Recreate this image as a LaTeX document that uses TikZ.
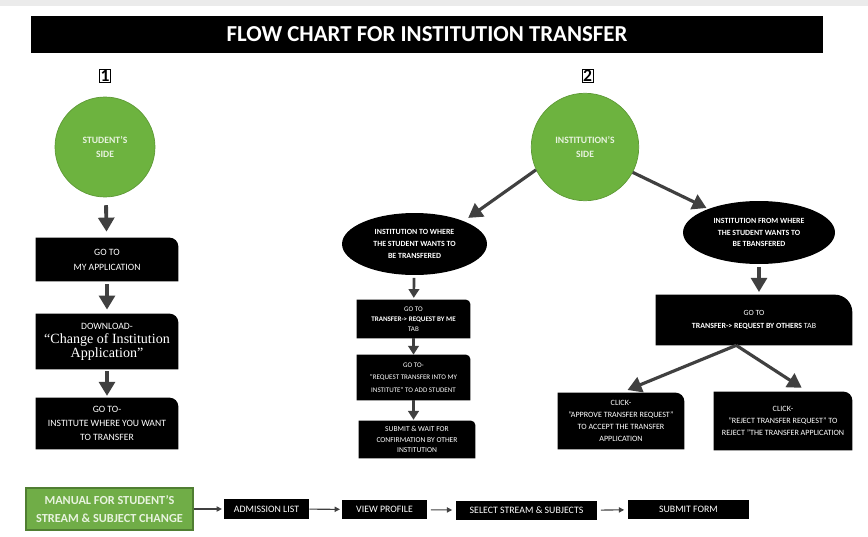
\documentclass[tikz,border=0pt]{standalone}
\usepackage{fontspec}
\setmainfont{Carlito}
\newfontfamily\quotefont{Liberation Serif}
\usepackage{tikz}
\usetikzlibrary{shapes.geometric, arrows.meta, positioning, backgrounds}

\definecolor{sidegreen}{HTML}{6DB33F}
\definecolor{sideline}{HTML}{5E9A36}
\definecolor{manualgreen}{HTML}{70AD47}
\definecolor{manualline}{HTML}{507E32}
\definecolor{paletext}{HTML}{E8F3DF}
\definecolor{arrowgray}{HTML}{404040}

\newcommand{\boxfont}[2]{\fontsize{#1}{#2}\selectfont}

\begin{document}
\begin{tikzpicture}[x=0.02cm, y=-0.02cm,%
  title/.style={fill=black, text=white, minimum width=15.84cm, minimum height=0.74cm, font=\bfseries\boxfont{13}{15}},%
  sidenum/.style={draw, thin, fill=white, inner sep=0.6pt, font=\bfseries\boxfont{10}{11}},%
  side/.style={circle, fill=sidegreen, draw=sideline, text=paletext, align=center, inner sep=0pt, font=\bfseries\boxfont{5.5}{8.5}},%
  stepbox/.style={rectangle, text=white, align=center, inner sep=1pt},%
  part/.style={ellipse, fill=black, text=white, align=center, inner sep=0pt, font=\bfseries\boxfont{4.5}{7}},%
  flat/.style={fill=black, text=white, inner sep=0pt, font=\boxfont{5.6}{7}},%
  manual/.style={fill=manualgreen, draw=manualline, thick, text=paletext, align=center, font=\bfseries\boxfont{7}{10}},%
  bigarrow/.style={-{Triangle[length=8pt,width=9pt]}, line width=2.2pt, draw=arrowgray},%
  midarrow/.style={-{Triangle[length=5pt,width=6pt]}, line width=1.5pt, draw=arrowgray},%
  thinarrow/.style={-{Triangle[length=3pt,width=3pt]}, line width=0.6pt, draw=arrowgray}%
]
  \useasboundingbox (0,0) rectangle (868,537);
  \fill[black!8] (0,0) rectangle (868,6);
  \node[title] (head) at (427,34.5) {FLOW CHART FOR INSTITUTION TRANSFER};
  \node[sidenum] (one) at (105,76) {1};
  \node[sidenum] (two) at (587.5,76) {2};

  % Student's side
  \node[side, minimum size=2cm] (stud) at (105,147) {STUDENT'S\\SIDE};
  \node[stepbox, minimum width=2.84cm, minimum height=0.86cm, font=\boxfont{5.5}{8.5}] (app) at (107,259.5) {GO TO\\MY APPLICATION};
  \node[stepbox, minimum width=2.84cm, minimum height=1.1cm, font=\boxfont{5.5}{8}] (down) at (107,341.5) {DOWNLOAD-\\{\quotefont\boxfont{8}{9.6}“Change of Institution}\\{\quotefont\boxfont{8}{9.6}Application”}};
  \node[stepbox, minimum width=2.84cm, minimum height=1.02cm, font=\boxfont{5.5}{7.9}] (where) at (107,423.5) {GO TO-\\INSTITUTE WHERE YOU WANT\\TO TRANSFER};
  \draw[bigarrow, shorten <=4.5pt, shorten >=3.4pt] (stud) -- (app);
  \draw[bigarrow, shorten <=1.7pt, shorten >=2.3pt] (app) -- (down);
  \draw[bigarrow, shorten <=1pt, shorten >=1pt] (down) -- (where);

  % Institution's side
  \node[side, minimum size=2.15cm] (inst) at (585,147) {INSTITUTION'S\\SIDE};
  \node[part, minimum width=2.9cm, minimum height=1.24cm] (lell) at (414.5,244) {INSTITUTION TO WHERE\\THE STUDENT WANTS TO\\BE TRANSFERED};
  \node[part, minimum width=3.04cm, minimum height=1.26cm, font=\bfseries\boxfont{4.5}{6.5}] (rell) at (759,232.5) {INSTITUTION FROM WHERE\\THE STUDENT WANTS TO\\BE TBANSFERED};
  \draw[bigarrow, line width=1.8pt, shorten >=3pt] (inst.205) -- (lell.25);
  \draw[bigarrow, line width=1.8pt, shorten >=1pt] (inst.-28) -- (rell.155);

  % Institution to where
  \node[stepbox, minimum width=2.26cm, minimum height=0.76cm, font=\boxfont{4}{5.7}] (byme) at (413.5,319) {GO TO\\\textbf{TRANSFER-> REQUEST BY ME}\\TAB};
  \node[stepbox, minimum width=2.26cm, minimum height=0.9cm, font=\boxfont{4}{7}] (reqin) at (413.5,377.5) {GO TO-\\"REQUEST TRANSFER INTO MY\\INSTITUTE" TO ADD STUDENT};
  \node[stepbox, minimum width=2.32cm, minimum height=0.74cm, font=\boxfont{4.3}{6.2}] (wait) at (417,439.5) {SUBMIT \& WAIT FOR\\CONFIRMATION BY OTHER\\INSTITUTION};
  \draw[midarrow, shorten <=1.5pt, shorten >=1pt] (lell) -- (byme);
  \draw[midarrow] (byme) -- (reqin);
  \draw[midarrow, shorten >=0.5pt] (reqin.south) -- (reqin.south |- wait.north);

  % Institution from where
  \node[stepbox, minimum width=3.92cm, minimum height=1.0cm, font=\boxfont{4.5}{7.4}] (others) at (754,320) {GO TO\\\textbf{TRANSFER-> REQUEST BY OTHERS} TAB};
  \node[stepbox, minimum width=2.52cm, minimum height=1.12cm, font=\boxfont{4.6}{6.8}] (approve) at (621,421) {CLICK-\\"APPROVE TRANSFER REQUEST"\\TO ACCEPT THE TRANSFER\\APPLICATION};
  \node[stepbox, minimum width=2.76cm, minimum height=1.16cm, font=\boxfont{4.6}{6.8}] (reject) at (783,421) {CLICK-\\"REJECT TRANSFER REQUEST" TO\\REJECT "THE TRANSFER APPLICATION};
  \draw[bigarrow, line width=1.8pt, shorten <=1.5pt, shorten >=1.5pt] (rell.south) -- (rell.south |- others.north);
  \coordinate (fork) at (others.235);
  \draw[bigarrow, line width=1.8pt, shorten >=4pt] (fork) -- (approve.north);
  \draw[bigarrow, line width=1.8pt, shorten >=4pt] (fork) -- (reject.50);

  % Stream & subject change
  \node[manual, minimum width=3.34cm, minimum height=0.84cm] (manual) at (109.5,509) {MANUAL FOR STUDENT'S\\STREAM \& SUBJECT CHANGE};
  \node[flat, minimum width=1.7cm, minimum height=0.4cm] (adm) at (266.5,509) {ADMISSION LIST};
  \node[flat, minimum width=1.7cm, minimum height=0.38cm] (view) at (384.5,509.5) {VIEW PROFILE};
  \node[flat, minimum width=2.82cm, minimum height=0.38cm] (sel) at (526.5,510.5) {SELECT STREAM \& SUBJECTS};
  \node[flat, minimum width=2.42cm, minimum height=0.38cm] (subf) at (688.5,509.5) {SUBMIT FORM};
  \draw[thinarrow, shorten >=1pt] (manual) -- (adm);
  \draw[thinarrow, shorten >=1pt] (adm) -- (view);
  \draw[thinarrow, shorten <=2pt, shorten >=2pt] (view) -- (sel);
  \draw[thinarrow, shorten <=2pt, shorten >=2pt] (sel) -- (subf);

  % black boxes, top right corner rounded
  \begin{scope}[on background layer]
    \foreach \n/\r in {app/5pt, down/5pt, where/5pt, byme/2.5pt, reqin/2.5pt, wait/2.5pt, others/10pt, approve/5pt, reject/5pt}
      \fill (\n.south west) -- (\n.north west) -- ([xshift=-\r]\n.north east) arc[start angle=90, end angle=0, radius=\r] -- (\n.south east) -- cycle;
  \end{scope}
\end{tikzpicture}
\end{document}
